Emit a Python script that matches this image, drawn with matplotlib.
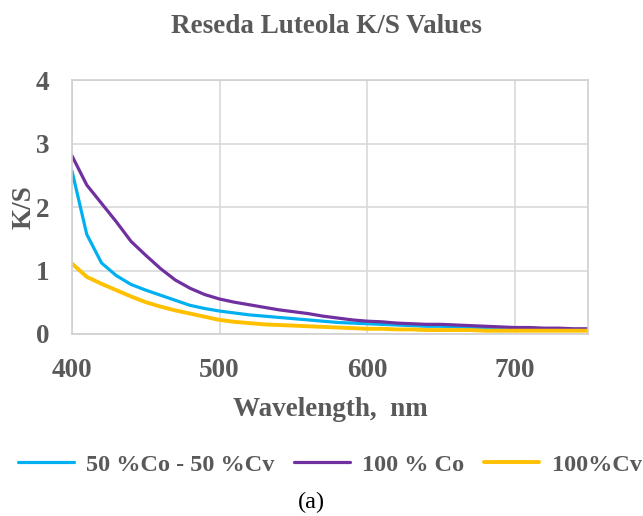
import matplotlib
matplotlib.use('Agg')
from matplotlib import pyplot as plt

# wavelength (nm) and K/S readings
wavelength = [400, 410, 420, 430, 440, 450, 460, 470, 480, 490, 500,
              510, 520, 530, 540, 550, 560, 570, 580, 590, 600,
              610, 620, 630, 640, 650, 660, 670, 680, 690, 700,
              710, 720, 730, 740, 750]
ks_mix = [2.57, 1.57, 1.12, 0.92, 0.78, 0.69, 0.61, 0.53, 0.45, 0.40, 0.36,
          0.33, 0.30, 0.28, 0.26, 0.24, 0.22, 0.20, 0.18, 0.17, 0.16,
          0.15, 0.14, 0.13, 0.12, 0.12, 0.11, 0.10, 0.10, 0.09, 0.09,
          0.08, 0.08, 0.08, 0.07, 0.07]
ks_co = [2.81, 2.35, 2.06, 1.77, 1.46, 1.24, 1.03, 0.85, 0.72, 0.62, 0.55,
         0.50, 0.46, 0.42, 0.38, 0.35, 0.32, 0.28, 0.25, 0.22, 0.20,
         0.19, 0.17, 0.16, 0.15, 0.15, 0.14, 0.13, 0.12, 0.11, 0.10,
         0.10, 0.09, 0.09, 0.08, 0.08]
ks_cv = [1.11, 0.90, 0.79, 0.69, 0.59, 0.50, 0.43, 0.37, 0.32, 0.27, 0.22,
         0.19, 0.17, 0.15, 0.14, 0.13, 0.12, 0.11, 0.10, 0.09, 0.08,
         0.08, 0.07, 0.07, 0.06, 0.06, 0.06, 0.06, 0.05, 0.05, 0.05,
         0.05, 0.05, 0.05, 0.05, 0.05]
series_names = ['50 %Co - 50 %Cv', '100 % Co', '100%Cv']
x_ticks = [400, 500, 600, 700]
y_ticks = [0, 1, 2, 3, 4]

grey = '#595959'
serif = ['Liberation Serif', 'DejaVu Serif']

fig = plt.figure(figsize=(6.43, 5.16), dpi=100)
ax = fig.add_axes([0.112, 0.353, 0.803, 0.491])

ax.plot(wavelength, ks_mix, color='#00B0F0', lw=2.3, label=series_names[0], solid_capstyle='round')
ax.plot(wavelength, ks_co, color='#7030A0', lw=2.3, label=series_names[1], solid_capstyle='round')
ax.plot(wavelength, ks_cv, color='#FFC000', lw=2.8, label=series_names[2], solid_capstyle='round')

ax.set_xlim(400, 750)
ax.set_ylim(0, 4)
ax.set_xticks(x_ticks)
ax.set_yticks(y_ticks)
ax.grid(True, color='#D9D9D9', lw=1.2)
ax.set_axisbelow(True)
for s in ax.spines.values():
    s.set_color('#D0D0D0')
    s.set_linewidth(1.2)
ax.tick_params(length=0, colors=grey)
ax.tick_params(axis='x', pad=17.5)
ax.tick_params(axis='y', pad=16.5)
for lab in ax.get_xticklabels() + ax.get_yticklabels():
    lab.set_fontfamily(serif)
    lab.set_fontweight('bold')
    lab.set_fontsize(19.5)
    lab.set_color(grey)

ax.set_xlabel('Wavelength,  nm', fontfamily=serif, fontweight='bold', fontsize=19.5,
              color=grey, labelpad=10)
ax.set_ylabel('K/S', fontfamily=serif, fontweight='bold', fontsize=19.5,
              color=grey, labelpad=-1)

fig.text(0.507, 0.948, 'Reseda Luteola K/S Values', ha='center', va='center',
         fontfamily=serif, fontweight='bold', fontsize=19.5, color=grey)

leg = fig.legend(loc='center', bbox_to_anchor=(0.513, 0.099), ncol=3, frameon=False,
                 prop={'family': serif, 'weight': 'bold', 'size': 17.5},
                 handlelength=2.3, handletextpad=0.5, columnspacing=0.8)
for t in leg.get_texts():
    t.set_color(grey)

fig.text(0.485, 0.026, '(a)', ha='center', va='center', fontfamily=serif,
         fontsize=17.5, color='black')

fig.savefig('out.png', dpi=100)
